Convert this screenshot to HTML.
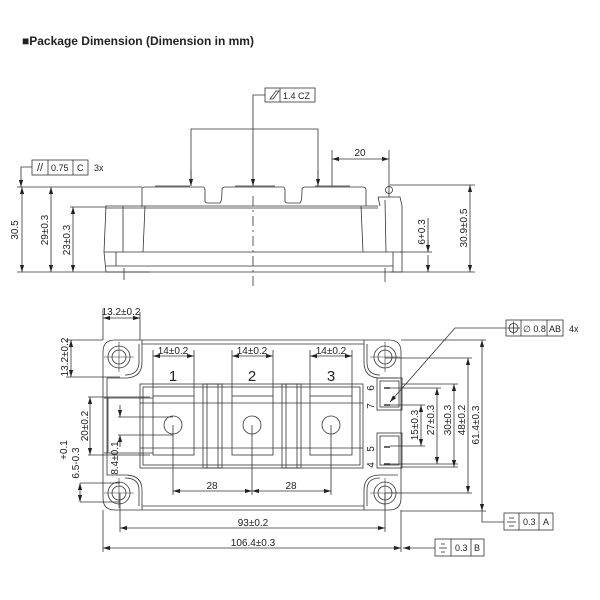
<!DOCTYPE html>
<html><head><meta charset="utf-8"><style>
html,body{margin:0;padding:0;background:#fff;}
svg{display:block;}
text{font-family:"Liberation Sans",Arial,sans-serif;fill:#222;}
</style></head><body>
<svg width="600" height="600" viewBox="0 0 600 600" xmlns="http://www.w3.org/2000/svg">
<defs>
<marker id="a" viewBox="0 0 10 10" refX="10" refY="5" markerWidth="7" markerHeight="7" orient="auto-start-reverse" markerUnits="userSpaceOnUse"><path d="M0,2 L10,5 L0,8 z" fill="#222"/></marker>
</defs>
<text x="22" y="45" font-size="12" font-weight="bold">■Package Dimension (Dimension in mm)</text>

<g stroke="#333" stroke-width="0.8" fill="none">
<path d="M142,207 L142,189 Q142,187 145,187 L203,187 Q205,187 205,190 L205,201 Q205,203 208,203 L220,203 Q222,201 222,190 Q222,187 225,187 L283,187 Q285,187 285,190 L285,201 Q285,203 288,203 L300,203 Q302,201 302,190 Q302,187 305,187 L363,187 Q366,187 366,190 L366,206"/>
<line x1="155" y1="186" x2="190" y2="186"/>
<line x1="235" y1="186" x2="275" y2="186"/>
<line x1="315" y1="186" x2="350" y2="186"/>
<line x1="105" y1="206" x2="378" y2="206"/>
<line x1="105" y1="208" x2="378" y2="208"/>
<path d="M106,206 L104,252"/>
<line x1="123" y1="206" x2="123" y2="252"/>
<path d="M145,206 L143,252"/>
<path d="M361,206 L363,252"/>
<path d="M378,197 L400,197 L402,206 L402,272 L390,272"/>
<path d="M378,197 L380,206"/>
<line x1="385" y1="200" x2="386" y2="252"/>
<line x1="104" y1="252" x2="402" y2="252"/>
<line x1="106" y1="266" x2="393" y2="266"/>
<line x1="106" y1="272" x2="402" y2="272"/>
<path d="M104,252 L106,272"/>
<line x1="116" y1="252" x2="116" y2="266"/>
<line x1="393" y1="252" x2="393" y2="272"/>
<circle cx="389" cy="190" r="3.5"/>
<line x1="389" y1="185" x2="389" y2="197"/>
<line x1="253" y1="196" x2="253" y2="290" stroke-dasharray="10,4,2,4"/>
<line x1="124" y1="268" x2="124" y2="280"/>
<line x1="385" y1="268" x2="385" y2="282"/>

<line x1="17" y1="187" x2="142" y2="187"/>
<line x1="17" y1="272" x2="150" y2="272"/>
<line x1="70" y1="207" x2="105" y2="207"/>
<line x1="22" y1="187" x2="22" y2="272" marker-start="url(#a)" marker-end="url(#a)"/>
<line x1="51" y1="187" x2="51" y2="272" marker-start="url(#a)" marker-end="url(#a)"/>
<line x1="73" y1="207" x2="73" y2="272" marker-start="url(#a)" marker-end="url(#a)"/>
<rect x="32" y="160" width="56" height="15"/>
<line x1="48" y1="160" x2="48" y2="175"/>
<line x1="73" y1="160" x2="73" y2="175"/>
<polyline points="32,167 21,167 21,187" marker-end="url(#a)"/>
<rect x="265" y="88" width="50" height="14"/>
<line x1="280" y1="88" x2="280" y2="102"/>
<path d="M270,99 L276,91 L279,91 L273,99 z" />
<polyline points="265,95 253,95 253,186" marker-end="url(#a)"/>
<polyline points="191,186 191,129 318,129 318,186" />
<line x1="191" y1="170" x2="191" y2="186" marker-end="url(#a)"/>
<line x1="318" y1="170" x2="318" y2="186" marker-end="url(#a)"/>
<line x1="332" y1="150" x2="332" y2="186"/>
<line x1="389" y1="150" x2="389" y2="186"/>
<line x1="332" y1="159" x2="389" y2="159" marker-start="url(#a)" marker-end="url(#a)"/>
<line x1="390" y1="185" x2="475" y2="185"/>
<line x1="402" y1="272" x2="475" y2="272"/>
<line x1="470" y1="185" x2="470" y2="272" marker-start="url(#a)" marker-end="url(#a)"/>
<line x1="400" y1="252" x2="432" y2="252"/>
<line x1="428" y1="218" x2="428" y2="252"/>
<line x1="428" y1="255" x2="428" y2="272" marker-end="url(#a)"/>
<line x1="428" y1="240" x2="428" y2="252" marker-end="url(#a)"/>

<path d="M103,352 Q103,340 115,340 L389,340 Q401,340 401,352 L401,498 Q401,510 389,510 L115,510 Q103,510 103,498 Z"/>
<path d="M142,340 L142,362 Q142,378 125,378 L107,378 L107,475 L125,475 Q142,475 142,490 L142,510"/>
<path d="M139,344 L139,362 Q139,375 125,375"/>
<path d="M139,506 L139,490 Q139,478 125,478"/>
<path d="M364,340 L364,362 Q364,378 380,378 L398,378"/>
<path d="M367,344 L367,362 Q367,375 380,375"/>
<path d="M364,510 L364,490 Q364,475 380,475 L398,475"/>
<path d="M367,506 L367,490 Q367,478 380,478"/>
<line x1="142" y1="344" x2="364" y2="344"/>
<line x1="142" y1="506" x2="364" y2="506"/>
<g>
<circle cx="119" cy="357" r="11"/><circle cx="119" cy="357" r="7"/>
<circle cx="119" cy="493" r="11"/><circle cx="119" cy="493" r="7"/>
<circle cx="385" cy="357" r="11"/><circle cx="385" cy="357" r="7"/>
<circle cx="385" cy="493" r="11"/><circle cx="385" cy="493" r="7"/>
</g>
<g stroke-width="0.6">
<line x1="104" y1="357" x2="134" y2="357"/><line x1="119" y1="342" x2="119" y2="372"/>
<line x1="104" y1="493" x2="134" y2="493"/><line x1="119" y1="478" x2="119" y2="508"/>
<line x1="370" y1="357" x2="400" y2="357"/><line x1="385" y1="342" x2="385" y2="372"/>
<line x1="370" y1="493" x2="400" y2="493"/><line x1="385" y1="478" x2="385" y2="508"/>
</g>
<rect x="140" y="384" width="223" height="84"/>
<rect x="143" y="387" width="217" height="78"/>
<line x1="104" y1="398" x2="153" y2="398"/>
<line x1="104" y1="453" x2="153" y2="453"/>
<line x1="108" y1="398" x2="108" y2="453"/>
<line x1="140" y1="403" x2="363" y2="403"/>
<line x1="140" y1="448" x2="363" y2="448"/>
<rect x="153" y="396" width="41" height="59"/>
<rect x="232" y="396" width="41" height="59"/>
<rect x="310" y="396" width="42" height="59"/>
<rect x="203" y="384" width="19" height="84"/>
<line x1="207" y1="384" x2="207" y2="468"/><line x1="218" y1="384" x2="218" y2="468"/>
<rect x="282" y="384" width="19" height="84"/>
<line x1="286" y1="384" x2="286" y2="468"/><line x1="297" y1="384" x2="297" y2="468"/>
<circle cx="173" cy="425" r="9"/>
<circle cx="252" cy="425" r="9"/>
<circle cx="331" cy="425" r="9"/>
<rect x="377" y="378" width="25" height="32"/>
<rect x="380" y="381" width="19" height="26"/>
<rect x="377" y="433" width="25" height="35"/>
<rect x="380" y="436" width="19" height="29"/>
<g stroke-width="1.5"><line x1="384" y1="388" x2="390" y2="388"/><line x1="384" y1="405" x2="390" y2="405"/><line x1="384" y1="447" x2="390" y2="447"/><line x1="384" y1="464" x2="390" y2="464"/></g>

<line x1="103" y1="310" x2="103" y2="340"/>
<line x1="140" y1="312" x2="140" y2="340"/>
<line x1="103" y1="318" x2="140" y2="318" marker-start="url(#a)" marker-end="url(#a)"/>
<line x1="66" y1="340" x2="103" y2="340"/>
<line x1="66" y1="377" x2="120" y2="377"/>
<line x1="71" y1="340" x2="71" y2="377" marker-start="url(#a)" marker-end="url(#a)"/>
<line x1="88" y1="397" x2="150" y2="397"/>
<line x1="88" y1="455" x2="150" y2="455"/>
<line x1="90" y1="397" x2="90" y2="455" marker-start="url(#a)" marker-end="url(#a)"/>
<line x1="118" y1="417" x2="173" y2="417"/>
<line x1="118" y1="435" x2="173" y2="435"/>
<line x1="120" y1="405" x2="120" y2="417" marker-end="url(#a)"/>
<line x1="120" y1="447" x2="120" y2="435" marker-end="url(#a)"/>
<line x1="80" y1="483" x2="120" y2="483"/>
<line x1="80" y1="502" x2="120" y2="502"/>
<line x1="80" y1="483" x2="80" y2="502" marker-start="url(#a)" marker-end="url(#a)"/>
<line x1="153" y1="350" x2="153" y2="396"/><line x1="194" y1="350" x2="194" y2="396"/>
<line x1="153" y1="356" x2="194" y2="356" marker-start="url(#a)" marker-end="url(#a)"/>
<line x1="232" y1="350" x2="232" y2="396"/><line x1="273" y1="350" x2="273" y2="396"/>
<line x1="232" y1="356" x2="273" y2="356" marker-start="url(#a)" marker-end="url(#a)"/>
<line x1="310" y1="350" x2="310" y2="396"/><line x1="352" y1="350" x2="352" y2="396"/>
<line x1="310" y1="356" x2="352" y2="356" marker-start="url(#a)" marker-end="url(#a)"/>
<line x1="173" y1="425" x2="173" y2="495"/><line x1="252" y1="425" x2="252" y2="495"/><line x1="331" y1="425" x2="331" y2="495"/>
<line x1="173" y1="491" x2="252" y2="491" marker-start="url(#a)" marker-end="url(#a)"/>
<line x1="252" y1="491" x2="331" y2="491" marker-start="url(#a)" marker-end="url(#a)"/>
<line x1="120" y1="493" x2="120" y2="532"/><line x1="385" y1="493" x2="385" y2="532"/>
<line x1="120" y1="528" x2="385" y2="528" marker-start="url(#a)" marker-end="url(#a)"/>
<line x1="103" y1="510" x2="103" y2="552"/><line x1="401" y1="510" x2="401" y2="552"/>
<line x1="103" y1="548" x2="401" y2="548" marker-start="url(#a)" marker-end="url(#a)"/>
<line x1="435" y1="548" x2="403" y2="548" marker-end="url(#a)"/>
<rect x="435" y="539" width="49" height="17"/>
<line x1="451" y1="539" x2="451" y2="556"/><line x1="471" y1="539" x2="471" y2="556"/>
<line x1="439" y1="548" x2="447" y2="548"/><line x1="441" y1="544" x2="445" y2="544"/><line x1="441" y1="552" x2="445" y2="552"/>
<line x1="390" y1="405" x2="425" y2="405"/><line x1="390" y1="446" x2="425" y2="446"/>
<line x1="421" y1="405" x2="421" y2="446" marker-start="url(#a)" marker-end="url(#a)"/>
<line x1="390" y1="388" x2="441" y2="388"/><line x1="390" y1="464" x2="458" y2="464"/>
<line x1="437" y1="388" x2="437" y2="464" marker-start="url(#a)" marker-end="url(#a)"/>
<line x1="402" y1="384" x2="458" y2="384"/><line x1="402" y1="467" x2="458" y2="467"/>
<line x1="454" y1="384" x2="454" y2="467" marker-start="url(#a)" marker-end="url(#a)"/>
<line x1="385" y1="358" x2="472" y2="358"/><line x1="385" y1="493" x2="472" y2="493"/>
<line x1="468" y1="358" x2="468" y2="493" marker-start="url(#a)" marker-end="url(#a)"/>
<line x1="401" y1="340" x2="486" y2="340"/><line x1="401" y1="511" x2="486" y2="511"/>
<line x1="482" y1="340" x2="482" y2="511" marker-start="url(#a)" marker-end="url(#a)"/>
<polyline points="482,511 482,522 504,522"/>
<rect x="504" y="513" width="49" height="17"/>
<line x1="519" y1="513" x2="519" y2="530"/><line x1="539" y1="513" x2="539" y2="530"/>
<line x1="507" y1="522" x2="516" y2="522"/><line x1="509" y1="518" x2="514" y2="518"/><line x1="509" y1="526" x2="514" y2="526"/>
<rect x="506" y="320" width="57" height="16"/>
<line x1="521" y1="320" x2="521" y2="336"/><line x1="547" y1="320" x2="547" y2="336"/>
<circle cx="513.5" cy="328" r="4.5"/><line x1="507" y1="328" x2="520" y2="328"/><line x1="513.5" y1="321.5" x2="513.5" y2="334.5"/>
<polyline points="506,328 455,328 390,402" marker-end="url(#a)"/>
</g>

<g font-size="10">
<text x="15" y="230" transform="rotate(-90 15 230)" text-anchor="middle" dy="3">30.5</text>
<text x="45" y="230" transform="rotate(-90 45 230)" text-anchor="middle" dy="3">29±0.3</text>
<text x="67" y="240" transform="rotate(-90 67 240)" text-anchor="middle" dy="3">23±0.3</text>
<text x="40" y="171" text-anchor="middle" font-size="11">//</text>
<text x="51" y="171" font-size="9">0.75</text>
<text x="77" y="171" font-size="9">C</text>
<text x="94" y="171" font-size="9">3x</text>
<text x="283" y="99" font-size="9">1.4 CZ</text>
<text x="360" y="156" text-anchor="middle">20</text>
<text x="422" y="232" transform="rotate(-90 422 232)" text-anchor="middle" dy="3">6+0.3</text>
<text x="464" y="228" transform="rotate(-90 464 228)" text-anchor="middle" dy="3">30.9±0.5</text>

<text x="121" y="315" text-anchor="middle">13.2±0.2</text>
<text x="65" y="357" transform="rotate(-90 65 357)" text-anchor="middle" dy="3">13.2±0.2</text>
<text x="85" y="426" transform="rotate(-90 85 426)" text-anchor="middle" dy="3">20±0.2</text>
<text x="115" y="458" transform="rotate(-90 115 458)" text-anchor="middle" dy="3">8.4±0.1</text>
<text x="76" y="463" transform="rotate(-90 76 463)" text-anchor="middle" dy="3">6.5-0.3</text>
<text x="64" y="450" transform="rotate(-90 64 450)" text-anchor="middle" dy="3">+0.1</text>
<text x="173" y="354" text-anchor="middle">14±0.2</text>
<text x="252" y="354" text-anchor="middle">14±0.2</text>
<text x="331" y="354" text-anchor="middle">14±0.2</text>
<text x="173" y="381" text-anchor="middle" font-size="15" fill="#444">1</text>
<text x="252" y="381" text-anchor="middle" font-size="15" fill="#444">2</text>
<text x="331" y="381" text-anchor="middle" font-size="15" fill="#444">3</text>
<text x="212" y="489" text-anchor="middle">28</text>
<text x="291" y="489" text-anchor="middle">28</text>
<text x="253" y="526" text-anchor="middle">93±0.2</text>
<text x="253" y="546" text-anchor="middle">106.4±0.3</text>
<text x="370" y="388" transform="rotate(-90 370 388)" text-anchor="middle" dy="4">6</text>
<text x="370" y="406" transform="rotate(-90 370 406)" text-anchor="middle" dy="4">7</text>
<text x="370" y="449" transform="rotate(-90 370 449)" text-anchor="middle" dy="4">5</text>
<text x="370" y="465" transform="rotate(-90 370 465)" text-anchor="middle" dy="4">4</text>
<text x="415" y="425" transform="rotate(-90 415 425)" text-anchor="middle" dy="3">15±0.3</text>
<text x="431" y="420" transform="rotate(-90 431 420)" text-anchor="middle" dy="3">27±0.3</text>
<text x="448" y="420" transform="rotate(-90 448 420)" text-anchor="middle" dy="3">30±0.3</text>
<text x="462" y="420" transform="rotate(-90 462 420)" text-anchor="middle" dy="3">48±0.2</text>
<text x="476" y="425" transform="rotate(-90 476 425)" text-anchor="middle" dy="3">61.4±0.3</text>
<text x="523" y="332" font-size="9">∅ 0.8</text>
<text x="549" y="332" font-size="9">AB</text>
<text x="569" y="332" font-size="9">4x</text>
<text x="523" y="525" font-size="9">0.3</text>
<text x="543" y="525" font-size="9">A</text>
<text x="455" y="551" font-size="9">0.3</text>
<text x="474" y="551" font-size="9">B</text>
</g>
</svg>
</body></html>
